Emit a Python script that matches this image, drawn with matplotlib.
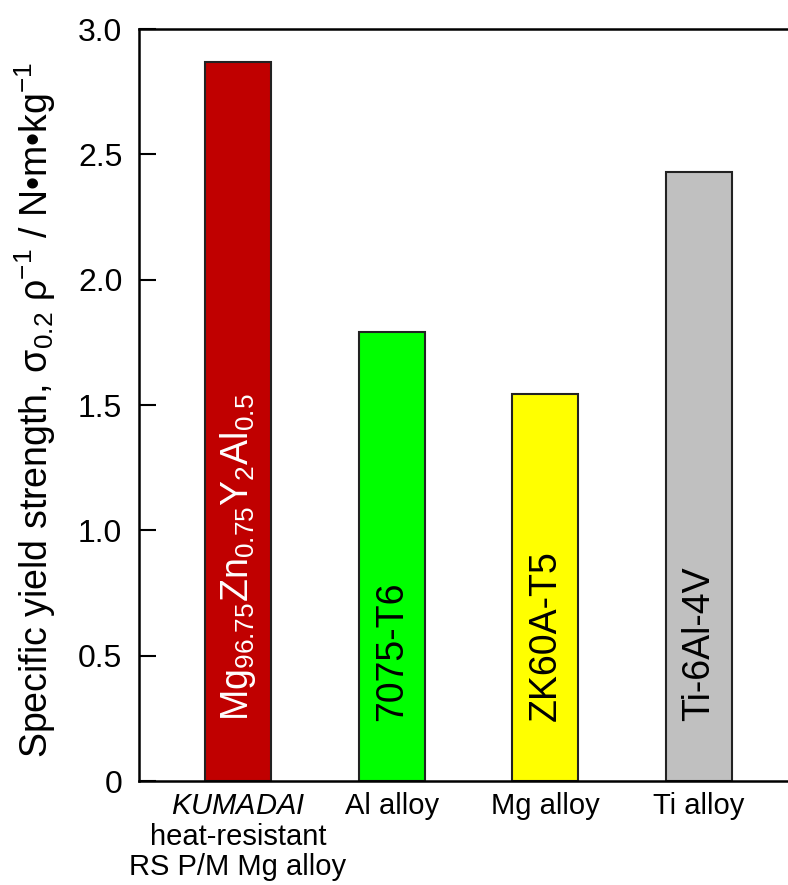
import matplotlib
matplotlib.use('Agg')
import matplotlib.pyplot as plt

plt.rcParams['font.family'] = ['Liberation Sans', 'DejaVu Sans']
plt.rcParams['mathtext.fontset'] = 'custom'
plt.rcParams['mathtext.rm'] = 'Liberation Sans'
plt.rcParams['mathtext.it'] = 'Liberation Sans:italic'
plt.rcParams['mathtext.bf'] = 'Liberation Sans:bold'
plt.rcParams['mathtext.sf'] = 'Liberation Sans'

categories = ["$\\mathit{KUMADAI}$\nheat-resistant\nRS P/M Mg alloy",
              "Al alloy", "Mg alloy", "Ti alloy"]
alloys = ["Mg$_{96.75}$Zn$_{0.75}$Y$_{2}$Al$_{0.5}$", "7075-T6", "ZK60A-T5", "Ti-6Al-4V"]
values = [2.87, 1.79, 1.545, 2.43]
colors = ['#C00000', '#00FF00', '#FFFF00', '#C0C0C0']
label_colors = ['white', 'black', 'black', 'black']
yticks = [0, 0.5, 1.0, 1.5, 2.0, 2.5, 3.0]
ytick_labels = ['0', '0.5', '1.0', '1.5', '2.0', '2.5', '3.0']
ylabel = "Specific yield strength, σ$_{0.2}$ ρ$^{-1}$ / N•m•kg$^{-1}$"

fig = plt.figure(figsize=(7.88, 8.85), dpi=100)
ax = fig.add_axes([0.1764, 0.1175, 0.8236, 0.8497])

x = list(range(len(values)))
ax.bar(x, values, width=0.43, color=colors, edgecolor='#222222', linewidth=1.5, zorder=2)

for i, (name, c) in enumerate(zip(alloys, label_colors)):
    ax.text(x[i], 0.24, name, rotation=90, ha='center', va='bottom',
            fontsize=27, color=c, zorder=3)

ax.set_xlim(-0.644, 3.578)
ax.set_ylim(0, 3.0)
ax.set_yticks(yticks)
ax.set_yticklabels(ytick_labels)
ax.set_xticks(x)
ax.set_xticklabels(categories, linespacing=1.12)

ax.tick_params(axis='y', direction='in', length=12, width=1.5, labelsize=23, pad=12)
ax.tick_params(axis='x', length=0, labelsize=21, pad=8)

for s in ['left', 'bottom', 'top']:
    ax.spines[s].set_linewidth(1.8)
ax.spines['right'].set_visible(False)

ax.set_ylabel(ylabel, fontsize=27, va='center')
ax.yaxis.set_label_coords(-0.160, 0.493)

fig.savefig('out.png', dpi=100)
